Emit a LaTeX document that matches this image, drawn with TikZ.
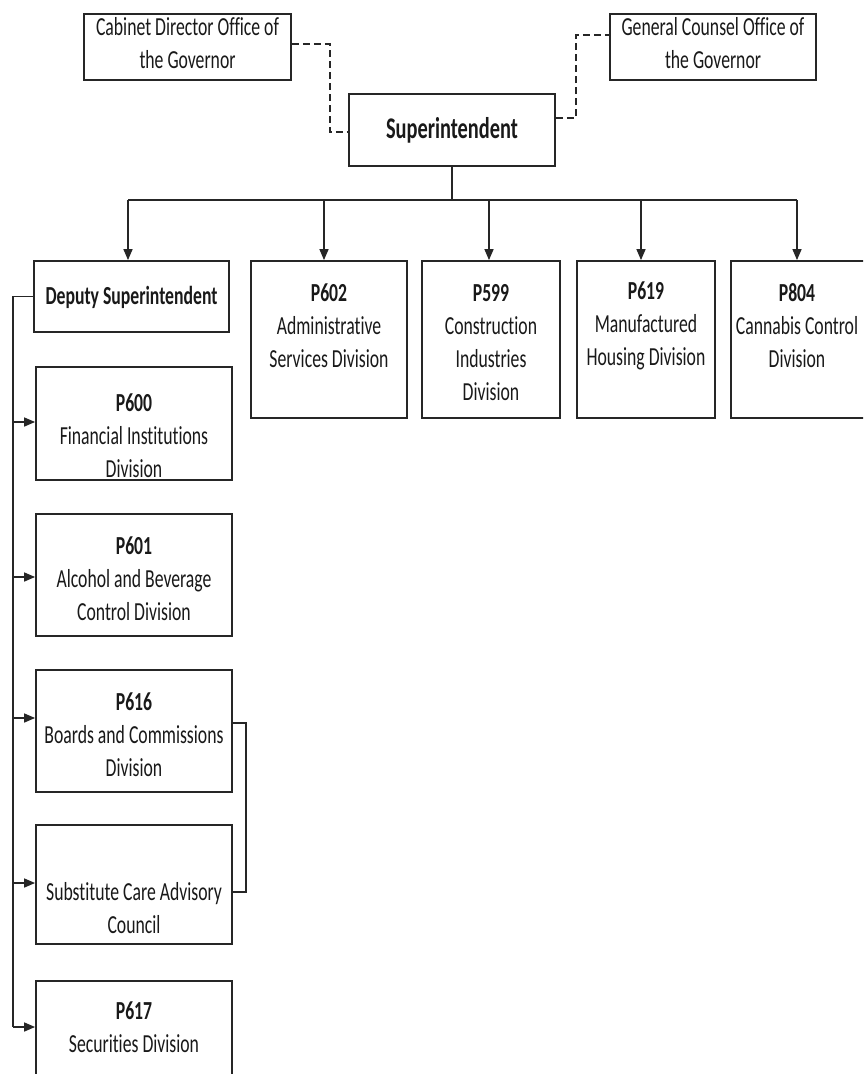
\documentclass[tikz,border=0pt]{standalone}
\usepackage{fontspec}
\setmainfont{Carlito}[FakeStretch=0.68, Ligatures=NoCommon]
\usetikzlibrary{arrows.meta}
\begin{document}
\begin{tikzpicture}[x=1pt,y=-1pt,
  box/.style={draw=black!85, line width=1.8pt, inner sep=0pt},
  txt/.style={align=center, inner sep=0pt, text=black!90, font=\fontsize{26}{33}\selectfont},
  btxt/.style={txt, font=\fontsize{30}{36}\selectfont\bfseries},
  ln/.style={draw=black!85, line width=1.5pt},
  arr/.style={ln, -{Triangle[length=11pt,width=9pt]}},
  dsh/.style={ln, dash pattern=on 7pt off 4pt}]
\clip (0,0) rectangle (863,1074);
\fill[white] (0,0) rectangle (863,1074);
% boxes
\node[box, minimum width=207pt, minimum height=66pt] (cab) at (187.5,47) {};
\node[box, minimum width=206pt, minimum height=66pt] (gc) at (713,47) {};
\node[box, minimum width=206pt, minimum height=72pt] (sup) at (452,130) {};
\node[box, minimum width=195pt, minimum height=71pt] (dep) at (131.5,296.5) {};
\node[box, minimum width=156pt, minimum height=157pt] (p602) at (329,339.5) {};
\node[box, minimum width=138pt, minimum height=157pt] (p599) at (491,339.5) {};
\node[box, minimum width=138pt, minimum height=157pt] (p619) at (646,339.5) {};
\node[box, minimum width=137pt, minimum height=157pt] (p804) at (799.5,339.5) {};
\node[box, minimum width=196pt, minimum height=113pt] (p600) at (134,423.5) {};
\node[box, minimum width=196pt, minimum height=122pt] (p601) at (134,575) {};
\node[box, minimum width=196pt, minimum height=122pt] (p616) at (134,731) {};
\node[box, minimum width=196pt, minimum height=119pt] (sca) at (134,884.5) {};
\node[box, minimum width=196pt, minimum height=119pt] (p617) at (134,1040.5) {};
% texts
\node[txt] (cabT) at (187.5,43) {Cabinet Director Office of\\the Governor};
\node[txt] (gcT) at (713,43) {General Counsel Office of\\the Governor};
\node[btxt] (supT) at (452,130) {Superintendent};
\node[txt, font=\fontsize{26}{33}\selectfont\bfseries] (depT) at (131.5,297) {Deputy Superintendent};
\node[txt] (p602T) at (329,326) {\textbf{P602}\\Administrative\\Services Division};
\node[txt] (p599T) at (491,343) {\textbf{P599}\\Construction\\Industries\\Division};
\node[txt] (p619T) at (646,326) {\textbf{P619}\\Manufactured\\Housing Division};
\node[txt] (p804T) at (797,326) {\textbf{P804}\\Cannabis Control\\Division};
\node[txt] (p600T) at (134,436) {\textbf{P600}\\Financial Institutions\\Division};
\node[txt] (p601T) at (134,579) {\textbf{P601}\\Alcohol and Beverage\\Control Division};
\node[txt] (p616T) at (134,735) {\textbf{P616}\\Boards and Commissions\\Division};
\node[txt] (scaT) at (134,908) {Substitute Care Advisory\\Council};
\node[txt] (p617T) at (134,1027) {\textbf{P617}\\Securities Division};
% dashed links
\draw[dsh] ([yshift=3pt]cab.east) -- ++(38,0) |- ([yshift=-2pt]sup.west);
\draw[dsh] ([yshift=12pt]sup.east) -- ++(20,0) |- ([yshift=12pt]gc.west);
% bus
\coordinate (busC) at (452,200);
\coordinate (b1) at (128,200);
\coordinate (b2) at (324,200);
\coordinate (b3) at (489,200);
\coordinate (b4) at (641,200);
\coordinate (b5) at (797,200);
\draw[ln] (sup.south) -- (busC);
\draw[ln] (b1) -- (b5);
\draw[arr] (b1) -- (b1 |- dep.north);
\draw[arr] (b2) -- (b2 |- p602.north);
\draw[arr] (b3) -- (b3 |- p599.north);
\draw[arr] (b4) -- (b4 |- p619.north);
\draw[arr] (b5) -- (b5 |- p804.north);
% left spine
\coordinate (l1) at (13,422);
\coordinate (l2) at (13,577);
\coordinate (l3) at (13,718);
\coordinate (l4) at (13,883);
\coordinate (l5) at (13,1027);
\draw[ln] (dep.west) -| (l5);
\draw[arr] (l1) -- (l1 -| p600.west);
\draw[arr] (l2) -- (l2 -| p601.west);
\draw[arr] (l3) -- (l3 -| p616.west);
\draw[arr] (l4) -- (l4 -| sca.west);
\draw[arr] (l5) -- (l5 -| p617.west);
% bracket
\draw[ln] ([yshift=8pt]p616.east) -- ++(13,0) |- ([yshift=-7.5pt]sca.east);
\end{tikzpicture}
\end{document}
